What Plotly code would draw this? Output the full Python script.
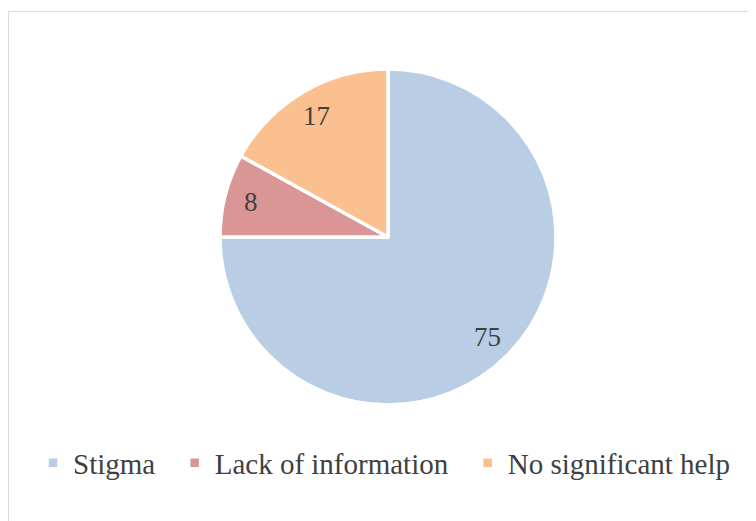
import math
import plotly.graph_objects as go

categories = ["Stigma", "Lack of information", "No significant help"]
values = [75, 8, 17]
colors = ["#B9CDE5", "#D99694", "#FAC090"]

W, H = 756, 521
OFF = 8  # page body margin offset
SERIF = "Liberation Serif, Times New Roman, serif"
TEXT_COLOR = "#404040"
# pie placement in pixels (layout styling), page coordinates
CX, CY, R = 388 - OFF, 237 - OFF, 168
LABEL_FRAC = 0.84
PAD = "\u00a0\u00a0"  # spacing after legend entries

fig = go.Figure()
fig.add_trace(go.Pie(
    labels=[c + PAD for c in categories],
    values=values,
    sort=False,
    direction="clockwise",
    rotation=0,
    marker=dict(colors=colors, line=dict(color="white", width=3.5)),
    textinfo="none",
    hoverinfo="label+value",
    domain=dict(x=[(CX - R) / W, (CX + R) / W], y=[1 - (CY + R) / H, 1 - (CY - R) / H]),
))

# value labels placed at each slice's mid-angle, computed from the data
total = sum(values)
cum = 0
annotations = []
for v in values:
    mid = (cum + v / 2) / total * 2 * math.pi
    cum += v
    px = CX + LABEL_FRAC * R * math.sin(mid)
    py = CY - LABEL_FRAC * R * math.cos(mid)
    annotations.append(dict(
        x=px / W, y=1 - py / H, xref="paper", yref="paper",
        text=str(v), showarrow=False,
        font=dict(family=SERIF, size=27, color=TEXT_COLOR),
        xanchor="center", yanchor="middle",
    ))

fig.update_layout(
    width=W, height=H,
    margin=dict(l=0, r=0, t=0, b=0),
    paper_bgcolor="white",
    plot_bgcolor="white",
    font=dict(family=SERIF, color=TEXT_COLOR),
    showlegend=True,
    legend=dict(
        orientation="h",
        x=(33 - OFF) / W, xanchor="left",
        y=1 - (463 - OFF) / H, yanchor="middle",
        font=dict(family=SERIF, size=29, color=TEXT_COLOR),
        bgcolor="rgba(0,0,0,0)",
    ),
    annotations=annotations,
    shapes=[dict(
        type="rect", xref="paper", yref="paper",
        x0=0.5 / W, x1=1.05, y0=-0.05, y1=1 - (11.5 - OFF) / H,
        line=dict(color="#D9D9D9", width=1), fillcolor="rgba(0,0,0,0)",
        layer="below",
    )],
)

fig.write_html("out.html")
